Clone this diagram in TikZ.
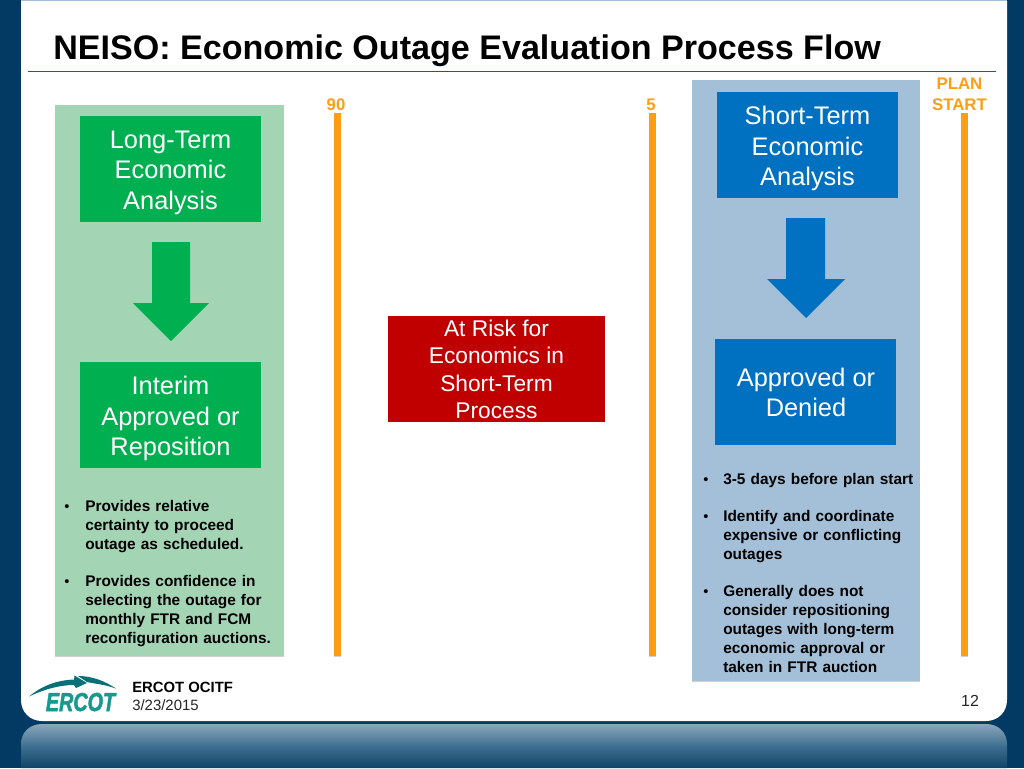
\documentclass[tikz,border=0pt]{standalone}
\usepackage{fontspec}
\usepackage{graphicx}
\setmainfont{Liberation Sans}
\newfontfamily\logofont[BoldItalicFeatures={FakeBold=2.2}]{Liberation Sans}
\usetikzlibrary{shadows,fadings}
\definecolor{navy}{HTML}{023A63}
\definecolor{rule}{HTML}{1F5A86}
\definecolor{gpanel}{HTML}{A3D5B5}
\definecolor{gbox}{HTML}{00B050}
\definecolor{bpanel}{HTML}{A4C0D8}
\definecolor{bbox}{HTML}{0070C0}
\definecolor{rbox}{HTML}{C00000}
\definecolor{ora}{HTML}{FF9D14}
\definecolor{teal1}{HTML}{17998F}
\definecolor{teal2}{HTML}{0B6F78}
\definecolor{bandtop}{HTML}{8AA6BA}
\definecolor{bandmid}{HTML}{3F6F90}
\definecolor{bandbot}{HTML}{0F4468}
\tikzset{
 x=0.75pt,y=-0.75pt,
 boxtxt/.style={align=center,text=white,font=\fontsize{19.05}{22.9}\selectfont,inner sep=0},
 redtxt/.style={align=center,text=white,font=\fontsize{17.05}{20.5}\selectfont,inner sep=0},
 bullets/.style={anchor=north west,align=left,inner sep=0,font=\fontsize{11.55}{14.25}\selectfont\bfseries},
 bulletdot/.style={anchor=north west,inner sep=0,font=\fontsize{11}{14.25}\selectfont},
 tick/.style={anchor=base,text=ora,font=\fontsize{12.6}{15}\selectfont\bfseries,align=center,inner sep=0},
 softshadow/.style={drop shadow={shadow xshift=0pt,shadow yshift=-1pt,opacity=0.18,fill=black}},
 bar/.style={fill=ora,draw=none,softshadow},
}
\begin{document}
\begin{tikzpicture}
\useasboundingbox (0,0) rectangle (1024,768);
\fill[navy] (0,0) rectangle (1024,768);
% white slide area
\fill[white] (21,1) -- (1007,1) -- (1007,700) .. controls (1007,712) and (998,721) .. (986,721) -- (42,721) .. controls (30,721) and (21,712) .. (21,700) -- cycle;
\fill[bpanel] (21,0) rectangle (1007,1.2);
% bottom band
\path[top color=bandtop,bottom color=bandbot,middle color=bandmid] (21,768) -- (21,744) .. controls (21,732) and (30,724) .. (42,724) -- (986,724) .. controls (998,724) and (1007,732) .. (1007,744) -- (1007,768) -- cycle;
% title
\node[anchor=base west,inner sep=0,font=\fontsize{25.56}{28}\selectfont\bfseries] (title) at (53,59) {NEISO: Economic Outage Evaluation Process Flow};
\draw[rule,line width=0.9pt] (28,71.5) -- (996,71.5);
% panels
\fill[gpanel,softshadow] (55,105) rectangle (284,656);
\fill[bpanel,softshadow] (692,80) rectangle (920,681);
% boxes
\fill[gbox] (80,116) rectangle (261,222);
\node[boxtxt] (lt) at (170.5,172.5) {Long-Term\\Economic\\Analysis};
\fill[gbox] (80,362) rectangle (261,468);
\node[boxtxt] (ia) at (170.5,418.5) {Interim\\Approved or\\Reposition};
\fill[bbox] (717,92) rectangle (898,198);
\node[boxtxt] (st) at (807.5,148.5) {Short-Term\\Economic\\Analysis};
\fill[bbox] (715,339) rectangle (896,445);
\node[boxtxt] (ad) at (806,392.5) {Approved or\\Denied};
\fill[rbox] (388,316) rectangle (605,422);
\node[redtxt] (risk) at (496.5,369.5) {At Risk for\\Economics in\\Short-Term\\Process};
% block arrows
\fill[gbox] (152,242) -- (190,242) -- (190,303) -- (209,303) -- (171,341) -- (133,303) -- (152,303) -- cycle;
\fill[bbox] (786,218) -- (825,218) -- (825,279) -- (845,279) -- (806,318) -- (767,279) -- (786,279) -- cycle;
% bars
\fill[bar] (333.5,113) rectangle (340.5,656);
\fill[bar] (648.5,113) rectangle (655.5,656);
\fill[bar] (960.5,113) rectangle (967.5,656);
\node[tick] (t90) at (336,110) {90};
\node[tick] (t5) at (651,110) {5};
\node[tick] (tplan) at (959.5,89.5) {PLAN};
\node[tick] (tstart) at (959.5,110) {START};
% left bullets
\node[bulletdot] (lb1) at (64,504) {•};
\node[bullets,text width=200pt] (lbt1) at (85,500) {Provides relative\\certainty to proceed\\outage as scheduled.};
\node[bulletdot] (lb2) at (64,579) {•};
\node[bullets,text width=200pt] (lbt2) at (85,575) {Provides confidence in\\selecting the outage for\\monthly FTR and FCM\\reconfiguration auctions.};
% right bullets
\node[bulletdot] (rb1) at (703,477) {•};
\node[bullets,text width=200pt] (rbt1) at (723,473) {3-5 days before plan start};
\node[bulletdot] (rb2) at (703,514) {•};
\node[bullets,text width=200pt] (rbt2) at (723,510) {Identify and coordinate\\expensive or conflicting\\outages};
\node[bulletdot] (rb3) at (703,589) {•};
\node[bullets,text width=200pt] (rbt3) at (723,585) {Generally does not\\consider repositioning\\outages with long-term\\economic approval or\\taken in FTR auction};
% footer
\node[anchor=base west,inner sep=0,font=\fontsize{11.14}{12}\selectfont\bfseries] (foot1) at (132,692) {ERCOT OCITF};
\node[anchor=base west,inner sep=0,font=\fontsize{11.2}{12}\selectfont,text=black!85] (foot2) at (132,710) {3/23/2015};
\node[anchor=base,inner sep=0,font=\fontsize{12}{12}\selectfont,text=black!85] (pg) at (970,706) {12};
% logo
\fill[teal2] (29,696.5) .. controls (44,684) and (60,680) .. (74,679.5) -- (74.5,675.5) -- (87,683) -- (76,688) -- (74,685) .. controls (60,685) and (45,689) .. (29,696.5) -- cycle;
\fill[teal2] (78,676) .. controls (92,676) and (105,681) .. (116,688.5) .. controls (105,684.5) and (96,684) .. (87,682) -- cycle;
\node[anchor=base,inner sep=0,text=teal1,font=\logofont\fontsize{19.5}{20}\selectfont\bfseries\itshape] (logo) at (80.5,711) {\scalebox{0.76}[1]{ERCOT}};
\end{tikzpicture}
\end{document}
